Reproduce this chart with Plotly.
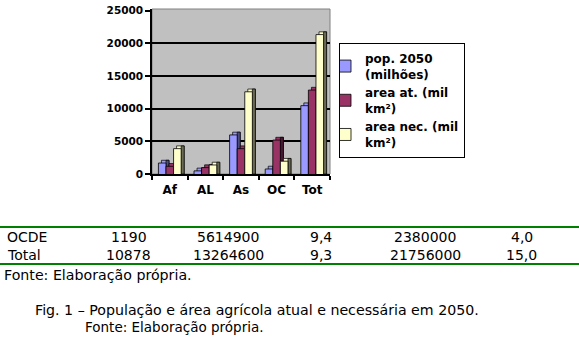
import plotly.graph_objects as go

# ---------------- data ----------------
categories = ["Af", "AL", "As", "OC", "Tot"]
pop_2050 = [2100, 900, 6400, 1190, 10878]
area_atual = [1600, 1400, 4300, 5615, 13265]
area_nec = [4300, 1800, 13000, 2380, 21756]
series_names = ["pop. 2050<br>(milhões)", "area at. (mil<br>km²)", "area nec. (mil<br>km²)"]
y_ticks = [0, 5000, 10000, 15000, 20000, 25000]
y_tick_labels = ["0", "5000", "10000", "15000", "20000", "25000"]
grid_vals = [5000, 10000, 15000, 20000]

row_ocde = ["OCDE", "1190", "5614900", "9,4", "2380000", "4,0"]
row_total = ["Total", "10878", "13264600", "9,3", "21756000", "15,0"]
source_text = "Fonte: Elaboração própria."
caption_line1 = "Fig. 1 – População e área agrícola atual e necessária em 2050."
caption_line2 = "Fonte: Elaboração própria."

# ---------------- style ----------------
W_PX, H_PX = 579, 342
L, R, T, B = 152, 330, 4, 174          # plot area in pixels
front_colors = ["#9999FF", "#993366", "#FFFFCC"]
side_colors = ["#4D4D80", "#4A1831", "#6B6B55"]
BAR_W = 0.213
DEPTH_X = 0.085
DEPTH_Y = 420
OFF0 = -0.32
FONT = "DejaVu Sans"


def px_x(px):
    return (px - L) / (R - L)


def px_y(py):
    return (B - py) / (B - T)


fig = go.Figure()
series = [pop_2050, area_atual, area_nec]
for i, vals in enumerate(series):
    off = OFF0 + i * BAR_W
    # back / top face
    fig.add_trace(go.Bar(
        x=categories, y=vals, base=0, offset=off + DEPTH_X, width=BAR_W,
        marker=dict(color=front_colors[i], line=dict(color="#000000", width=0.7)),
        showlegend=False, hoverinfo="skip"))
    # side face
    fig.add_trace(go.Bar(
        x=categories, y=vals, base=0, offset=off + BAR_W, width=DEPTH_X,
        marker=dict(color=side_colors[i], line=dict(color="#000000", width=0.7)),
        showlegend=False, hoverinfo="skip"))
    # front face
    fig.add_trace(go.Bar(
        x=categories, y=vals, base=-DEPTH_Y, offset=off, width=BAR_W,
        name=series_names[i],
        marker=dict(color=front_colors[i], line=dict(color="#000000", width=0.8)),
        showlegend=True))

annotations = []
col_x = [5, 128.8, 228.3, 321, 425.2, 521.5]
for row, py in ((row_ocde, 239), (row_total, 257)):
    for j, txt in enumerate(row):
        annotations.append(dict(
            x=px_x(col_x[j]), y=px_y(py), xref="paper", yref="paper",
            text=txt, showarrow=False, xanchor="left" if j == 0 else "center",
            yanchor="middle", font=dict(family=FONT, size=14, color="#000000")))
annotations.append(dict(x=px_x(2), y=px_y(278), xref="paper", yref="paper",
                        text=source_text, showarrow=False, xanchor="left", yanchor="middle",
                        font=dict(family=FONT, size=14.2, color="#000000")))
annotations.append(dict(x=px_x(33), y=px_y(314), xref="paper", yref="paper",
                        text=caption_line1, showarrow=False, xanchor="left", yanchor="middle",
                        font=dict(family=FONT, size=14.2, color="#000000")))
annotations.append(dict(x=px_x(83), y=px_y(332), xref="paper", yref="paper",
                        text=caption_line2, showarrow=False, xanchor="left", yanchor="middle",
                        font=dict(family=FONT, size=13.5, color="#000000")))

shapes = [
    dict(type="rect", xref="paper", yref="paper", x0=0, x1=1, y0=0, y1=1,
         line=dict(color="#808080", width=1), layer="below"),
    dict(type="line", xref="paper", yref="paper", x0=px_x(0), x1=px_x(579),
         y0=px_y(228.5), y1=px_y(228.5), line=dict(color="#008000", width=2)),
    dict(type="line", xref="paper", yref="paper", x0=px_x(0), x1=px_x(579),
         y0=px_y(266.8), y1=px_y(266.8), line=dict(color="#008000", width=2)),
]

fig.update_layout(
    width=W_PX, height=H_PX,
    margin=dict(l=L, r=W_PX - R, t=T, b=H_PX - B, pad=0),
    paper_bgcolor="#FFFFFF", plot_bgcolor="#C0C0C0",
    barmode="overlay",
    showlegend=True,
    legend=dict(x=px_x(339), y=px_y(39), xanchor="left", yanchor="top",
                bgcolor="#FFFFFF", bordercolor="#000000", borderwidth=1,
                font=dict(family=FONT, size=12, color="#000000", weight="bold"),
                indentation=-15, traceorder="normal"),
    annotations=annotations,
    shapes=shapes,
)
fig.update_xaxes(
    type="category", range=[-0.5, 4.5], showgrid=False,
    showline=True, linecolor="#000000", linewidth=1.5,
    ticks="outside", tickson="boundaries", ticklen=4, tickcolor="#000000", tickwidth=1.5,
    ticklabelstandoff=4,
    tickfont=dict(family=FONT, size=12, color="#000000", weight="bold"),
)
fig.update_yaxes(
    range=[0, 25250], tickmode="array", tickvals=y_ticks, ticktext=y_tick_labels,
    showgrid=False, ticklabeloverflow="allow",
    zeroline=False, showline=True, linecolor="#000000", linewidth=1.5,
    ticks="outside", ticklen=5, tickcolor="#000000", tickwidth=1.5,
    tickfont=dict(family=FONT, size=10.5, color="#000000", weight="bold"),
    minor=dict(tickmode="array", tickvals=grid_vals, showgrid=True,
               gridcolor="#000000", gridwidth=1.5, ticks=""),
)

fig.write_html("out.html", config={"displayModeBar": False},
               post_script="document.body.style.margin='0px';")
